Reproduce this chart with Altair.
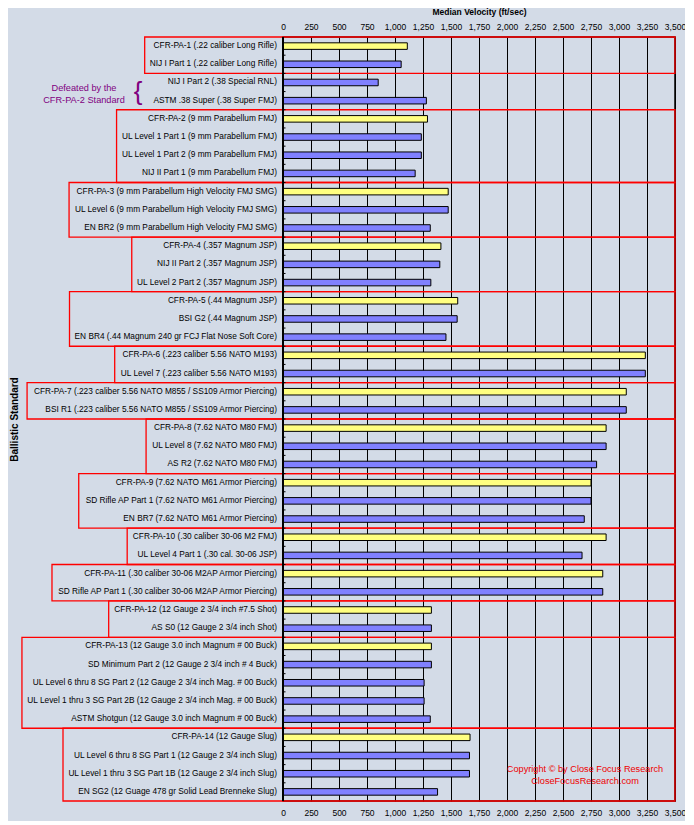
import altair as alt
import pandas as pd

# ---------------- data ----------------
labels = [
    "CFR-PA-1 (.22 caliber Long Rifle)",
    "NIJ I Part 1 (.22 caliber Long Rifle)",
    "NIJ I Part 2 (.38 Special RNL)",
    "ASTM .38 Super (.38 Super FMJ)",
    "CFR-PA-2 (9 mm Parabellum FMJ)",
    "UL Level 1 Part 1 (9 mm Parabellum FMJ)",
    "UL Level 1 Part 2 (9 mm Parabellum FMJ)",
    "NIJ II Part 1 (9 mm Parabellum FMJ)",
    "CFR-PA-3 (9 mm Parabellum High Velocity FMJ SMG)",
    "UL Level 6 (9 mm Parabellum High Velocity FMJ SMG)",
    "EN BR2 (9 mm Parabellum High Velocity FMJ SMG)",
    "CFR-PA-4 (.357 Magnum JSP)",
    "NIJ II Part 2 (.357 Magnum JSP)",
    "UL Level 2 Part 2 (.357 Magnum JSP)",
    "CFR-PA-5 (.44 Magnum JSP)",
    "BSI G2 (.44 Magnum JSP)",
    "EN BR4 (.44 Magnum 240 gr FCJ Flat Nose Soft Core)",
    "CFR-PA-6 (.223 caliber 5.56 NATO M193)",
    "UL Level 7 (.223 caliber 5.56 NATO M193)",
    "CFR-PA-7 (.223 caliber 5.56 NATO M855 / SS109 Armor Piercing)",
    "BSI R1 (.223 caliber 5.56 NATO M855 / SS109 Armor Piercing)",
    "CFR-PA-8 (7.62 NATO M80 FMJ)",
    "UL Level 8 (7.62 NATO M80 FMJ)",
    "AS R2 (7.62 NATO M80 FMJ)",
    "CFR-PA-9 (7.62 NATO M61 Armor Piercing)",
    "SD Rifle AP Part 1 (7.62 NATO M61 Armor Piercing)",
    "EN BR7 (7.62 NATO M61 Armor Piercing)",
    "CFR-PA-10 (.30 caliber 30-06 M2 FMJ)",
    "UL Level 4 Part 1 (.30 cal. 30-06 JSP)",
    "CFR-PA-11 (.30 caliber 30-06 M2AP Armor Piercing)",
    "SD Rifle AP Part 1 (.30 caliber 30-06 M2AP Armor Piercing)",
    "CFR-PA-12 (12 Gauge 2 3/4 inch #7.5 Shot)",
    "AS S0 (12 Gauge 2 3/4 inch Shot)",
    "CFR-PA-13 (12 Gauge 3.0 inch Magnum # 00 Buck)",
    "SD Minimum Part 2 (12 Gauge 2 3/4 inch # 4 Buck)",
    "UL Level 6 thru 8 SG Part 2 (12 Gauge 2 3/4 inch Mag. # 00 Buck)",
    "UL Level 1 thru 3 SG Part 2B (12 Gauge 2 3/4 inch Mag. # 00 Buck)",
    "ASTM Shotgun (12 Gauge 3.0 inch Magnum # 00 Buck)",
    "CFR-PA-14 (12 Gauge Slug)",
    "UL Level 6 thru 8 SG Part 1 (12 Gauge 2 3/4 inch Slug)",
    "UL Level 1 thru 3 SG Part 1B (12 Gauge 2 3/4 inch Slug)",
    "EN SG2 (12 Guage 478 gr Solid Lead Brenneke Slug)",
]

velocity = [
    1110, 1055, 850, 1280, 1290, 1235, 1235, 1180, 1475, 1475, 1315,
    1410, 1400, 1320, 1560, 1555, 1455, 3235, 3235, 3065, 3065,
    2885, 2885, 2800, 2750, 2750, 2690, 2885, 2670, 2855, 2855,
    1325, 1325, 1325, 1325, 1260, 1260, 1315, 1670, 1665, 1665, 1380,
]

# 0 = not boxed (the two standards defeated by CFR-PA-2)
group = [1, 1, 0, 0, 2, 2, 2, 2, 3, 3, 3, 4, 4, 4, 5, 5, 5, 6, 6, 7, 7,
         8, 8, 8, 9, 9, 9, 10, 10, 11, 11, 12, 12, 13, 13, 13, 13, 13,
         14, 14, 14, 14]

x_ticks = [0, 250, 500, 750, 1000, 1250, 1500, 1750, 2000, 2250, 2500,
           2750, 3000, 3250, 3500]

annot_lines = ["Defeated by the", "CFR-PA-2 Standard"]
copyright_lines = ["Copyright \u00a9 by  Close Focus Research", "CloseFocusResearch.com"]

# ---------------- layout / style ----------------
FONT = "Liberation Sans"
LABEL_SIZE = 8.3
PLOT_W = 392            # bar area width in px
LABEL_W = 262           # label area width in px (left of x = 0)
H = 764
PAD_L, PAD_T = 13, 29
XMAX = x_ticks[-1]
K = XMAX / PLOT_W       # data units per px
XMIN = -LABEL_W * K
N = len(labels)

BG = "#D3DBE7"
YELLOW = "#FFFF80"
BLUE = "#8080FF"
RED = "#FF0000"
PURPLE = "#800080"

# Arial / Liberation Sans advance widths (per 1000 em)
AW = {c: 556 for c in "0123456789"}
AW.update({" ": 278, "(": 333, ")": 333, ".": 278, "-": 333, "/": 278, "#": 556, ",": 278})
AW.update(dict(zip("ABCDEFGHIJKLMNOPQRSTUVWXYZ",
                   [667, 667, 722, 722, 667, 611, 778, 722, 278, 500, 667, 556, 833,
                    722, 778, 667, 778, 722, 667, 611, 722, 667, 944, 667, 667, 611])))
AW.update(dict(zip("abcdefghijklmnopqrstuvwxyz",
                   [556, 556, 500, 556, 556, 278, 556, 556, 222, 222, 500, 222, 833,
                    556, 556, 556, 556, 333, 500, 278, 556, 500, 722, 500, 500, 500])))


def text_px(s, size):
    return sum(AW.get(c, 556) for c in s) * size / 1000.0


LABEL_DX = 6
BOX_PAD = 5

df = pd.DataFrame({"idx": list(range(N)), "label": labels, "velocity": velocity, "group": group})
df["kind"] = ["CFR" if l.startswith("CFR-PA") else "other" for l in labels]

rows = []
for g in sorted(set(group)):
    if g == 0:
        continue
    members = df[df.group == g]
    w = max(text_px(l, LABEL_SIZE) for l in members.label)
    rows.append({"start": members.idx.min() - 0.5, "end": members.idx.max() + 0.5,
                 "left": -(LABEL_DX + w + BOX_PAD) * K})
boxes = pd.DataFrame(rows)

frame = pd.DataFrame({"y0": [-0.5], "y1": [N - 0.5]})
bounds = pd.DataFrame({"b": [i + 0.5 for i in range(N - 1)]})

# the unboxed rows the annotation refers to
defeated_idx = [i for i, g in enumerate(group) if g == 0]
defeated_mid = sum(defeated_idx) / len(defeated_idx)

XS = alt.Scale(domain=[XMIN, XMAX], nice=False, zero=False)
YS = alt.Scale(domain=[-0.5, N - 0.5], reverse=True, nice=False, zero=False)

top_axis = alt.Axis(
    orient="top", values=x_ticks, format=",d", grid=True, gridColor="black",
    gridOpacity=1, gridWidth=1, domain=False, ticks=False, tickSize=0,
    labelFont=FONT, labelFontSize=8.5, labelColor="black", labelBaseline="middle",
    labelPadding=11, labelFlush=False, labelOverlap=False,
    title="Median Velocity (ft/sec)", titleFont=FONT, titleFontSize=8.5,
    titleFontWeight="bold", titleColor="black", titleX=LABEL_W + PLOT_W / 2,
    titleY=-26, titleBaseline="middle",
)
bottom_axis = alt.Axis(
    orient="bottom", values=x_ticks, format=",d", grid=False, domain=False,
    ticks=False, tickSize=0, labelFont=FONT, labelFontSize=8.5, labelColor="black",
    labelBaseline="middle", labelPadding=11, labelFlush=False, labelOverlap=False,
    title=None,
)
y_axis = alt.Axis(
    title="Ballistic Standard", labels=False, ticks=False, domain=False, grid=False,
    titleFont=FONT, titleFontSize=10, titleFontWeight="bold", titleColor="black",
    titlePadding=2,
)

# frame (black) + bottom axis
frame_layer = alt.Chart(frame).mark_rect(fillOpacity=0, stroke="black", strokeWidth=1.5).encode(
    x=alt.X("zero:Q", scale=XS, axis=bottom_axis),
    x2=alt.datum(XMAX),
    y=alt.Y("y0:Q", scale=YS, axis=None),
    y2="y1:Q",
).transform_calculate(zero="0")

# bars + top axis + y title
bars = alt.Chart(df).mark_rect(stroke="black", strokeWidth=1).encode(
    x=alt.X("velocity:Q", scale=XS, axis=top_axis),
    x2=alt.datum(0),
    y=alt.Y("b0:Q", scale=YS, axis=y_axis),
    y2="b1:Q",
    color=alt.Color("kind:N", scale=alt.Scale(domain=["CFR", "other"], range=[YELLOW, BLUE]),
                    legend=None),
).transform_calculate(b0="datum.idx - 0.18", b1="datum.idx + 0.18")

# red group boxes
box_layer = alt.Chart(boxes).mark_rect(fillOpacity=0, stroke=RED, strokeWidth=1.3).encode(
    x=alt.X("left:Q", scale=XS, axis=None),
    x2=alt.datum(XMAX),
    y=alt.Y("start:Q", scale=YS, axis=None),
    y2="end:Q",
)

# left axis line and inner ticks
axis_line = alt.Chart(frame).mark_rule(color="black", strokeWidth=2).encode(
    x=alt.X("zero:Q", scale=XS, axis=None),
    y=alt.Y("y0:Q", scale=YS, axis=None),
    y2="y1:Q",
).transform_calculate(zero="0")

tick_layer = alt.Chart(bounds).mark_rule(color="black", strokeWidth=1).encode(
    x=alt.X("zero:Q", scale=XS, axis=None),
    x2=alt.datum(2.5 * K),
    y=alt.Y("b:Q", scale=YS, axis=None),
).transform_calculate(zero="0")

# row labels
label_layer = alt.Chart(df).mark_text(
    align="right", baseline="middle", dx=-LABEL_DX, font=FONT, fontSize=LABEL_SIZE, color="black"
).encode(
    x=alt.X("zero:Q", scale=XS, axis=None),
    y=alt.Y("idx:Q", scale=YS, axis=None),
    text="label:N",
).transform_calculate(zero="0")

# "Defeated by the CFR-PA-2 Standard" annotation
PLOT_LEFT_PAGE = 8 + PAD_L
PLOT_TOP_PAGE = 8 + PAD_T
mid_df = pd.DataFrame({"yy": [defeated_mid]})


def annot_text(txt, dy, size, xpage):
    return alt.Chart(mid_df).mark_text(
        align="center", baseline="middle", font=FONT, fontSize=size, color=PURPLE, dy=dy
    ).encode(
        x=alt.value(xpage - PLOT_LEFT_PAGE),
        y=alt.Y("yy:Q", scale=YS, axis=None),
        text=alt.value(txt),
    )


annot1 = annot_text(annot_lines[0], -3.5, 9.2, 84)
annot2 = annot_text(annot_lines[1], 8.5, 9.2, 84)
brace = annot_text("{", 0, 26, 138)

copy_df = pd.DataFrame({"t": copyright_lines, "line": [0, 1]})
copyright = alt.Chart(copy_df).mark_text(
    align="center", baseline="middle", font=FONT, fontSize=9.2, color="#EE0000"
).encode(
    x=alt.value(585 - PLOT_LEFT_PAGE),
    y=alt.Y("py:Q", scale=None),
    text="t:N",
).transform_calculate(py=f"datum.line == 0 ? {769 - PLOT_TOP_PAGE} : {781 - PLOT_TOP_PAGE}")

chart = alt.layer(
    frame_layer, bars, box_layer, axis_line, tick_layer, label_layer,
    annot1, annot2, brace, copyright
).resolve_scale(x="independent", y="independent").properties(
    width=LABEL_W + PLOT_W,
    height=H,
    background=BG,
    autosize=alt.AutoSizeParams(type="none"),
    padding={"left": PAD_L, "top": PAD_T, "right": 10, "bottom": 20},
).configure_view(stroke=None)

chart.save("out.html", embed_options={"renderer": "svg", "actions": False})
